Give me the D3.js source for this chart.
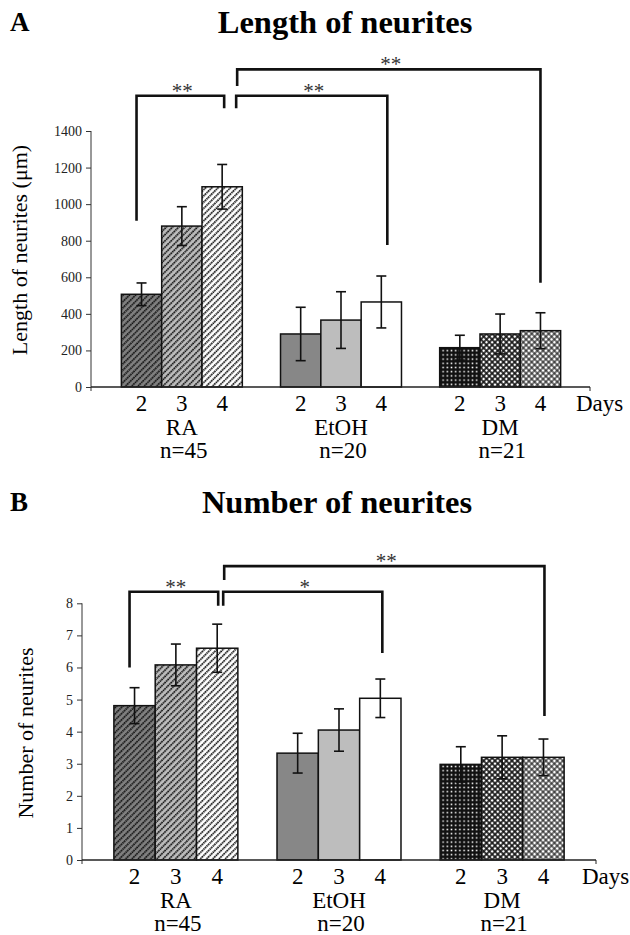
<!DOCTYPE html>
<html>
<head>
<meta charset="utf-8">
<script src="https://cdn.jsdelivr.net/npm/d3@7"></script>
<style>
  body { margin: 0; background: #fff; }
  svg { display: block; }
  text { font-family: "Liberation Serif", "Times New Roman", serif; }
</style>
</head>
<body>
<div id="chart"></div>
<script>
// values
const groups = ["RA", "EtOH", "DM"];
const groupN = ["n=45", "n=20", "n=21"];
const days = ["2", "3", "4"];

const lengthMean = [[507, 880, 1095], [290, 366, 465], [215, 290, 308]];
const lengthErr = [[62, 106, 122], [146, 155, 142], [68, 109, 98]];
const lengthTicks = [0, 200, 400, 600, 800, 1000, 1200, 1400];

const numberMean = [[4.81, 6.08, 6.60], [3.33, 4.05, 5.04], [2.98, 3.20, 3.20]];
const numberErr = [[0.56, 0.65, 0.75], [0.62, 0.66, 0.60], [0.55, 0.67, 0.57]];
const numberTicks = [0, 1, 2, 3, 4, 5, 6, 7, 8];

// significance marks for the three brackets of each panel
const lengthSig = ["**", "**", "**"];
const numberSig = ["**", "*", "**"];

const W = 630, H = 935;

const svg = d3.select("#chart").append("svg")
    .attr("width", W)
    .attr("height", H)
    .attr("font-family", "Liberation Serif, serif");

const defs = svg.append("defs");

function hatch(id, bg){
    let p = defs.append("pattern")
        .attr("id", id)
        .attr("patternUnits", "userSpaceOnUse")
        .attr("width", 4.4)
        .attr("height", 4.4)
        .attr("patternTransform", "rotate(45)");
    p.append("rect").attr("width", 4.4).attr("height", 4.4).attr("fill", bg);
    p.append("line")
        .attr("x1", 1).attr("y1", 0).attr("x2", 1).attr("y2", 4.4)
        .attr("stroke", "#111")
        .attr("stroke-width", 1.8)
        .attr("stroke-dasharray", "1.6 0.6");
}
hatch("ra2", "#808080");
hatch("ra3", "#bdbdbd");
hatch("ra4", "#ffffff");

function checker(id, hole, size, rot){
    let p = defs.append("pattern")
        .attr("id", id)
        .attr("patternUnits", "userSpaceOnUse")
        .attr("width", size)
        .attr("height", size)
        .attr("patternTransform", "rotate(" + rot + ")");
    p.append("rect").attr("width", size).attr("height", size).attr("fill", "#111");
    p.append("rect")
        .attr("x", (size - hole) / 2).attr("y", (size - hole) / 2)
        .attr("width", hole).attr("height", hole)
        .attr("fill", "#fff");
}
checker("dm2", 1.5, 4.2, 0);
checker("dm3", 2.4, 4.0, 45);
checker("dm4", 2.9, 4.0, 45);

const fills = [
    ["url(#ra2)", "url(#ra3)", "url(#ra4)"],
    ["#878787", "#bdbdbd", "#ffffff"],
    ["url(#dm2)", "url(#dm3)", "url(#dm4)"]
];

function drawPanel(cfg){
    let g = svg.append("g");

    let x0 = d3.scaleBand()
        .domain(groups)
        .range(cfg.xRange)
        .paddingInner(0.24)
        .paddingOuter(0.128);

    let x1 = d3.scaleBand()
        .domain(days)
        .range([0, x0.bandwidth()]);

    let y = d3.scaleLinear()
        .domain(cfg.domain)
        .range(cfg.yRange);

    let rows = [];
    groups.forEach(function(grp, gi){
        days.forEach(function(day, di){
            rows.push({group: grp, day: day, gi: gi, di: di,
                       mean: cfg.mean[gi][di], err: cfg.err[gi][di]});
        });
    });

    function cx(gi, di){
        return x0(groups[gi]) + x1(days[di]) + x1.bandwidth() / 2;
    }

    // panel letter + title
    g.append("text")
        .attr("x", 10)
        .attr("y", cfg.titleY - 2)
        .attr("font-size", 27)
        .attr("font-weight", "bold")
        .text(cfg.letter);

    g.append("text")
        .attr("x", cfg.titleX)
        .attr("y", cfg.titleY)
        .attr("text-anchor", "middle")
        .attr("font-size", 32.5)
        .attr("font-weight", "bold")
        .text(cfg.title);

    // y axis
    let yAxis = d3.axisLeft(y)
        .tickValues(cfg.ticks)
        .tickFormat(d3.format("d"))
        .tickSize(5)
        .tickSizeOuter(0)
        .tickPadding(4);

    let ax = g.append("g")
        .attr("transform", "translate(" + cfg.axisX + ",0)")
        .call(yAxis)
        .attr("font-family", "Liberation Serif, serif");
    ax.select(".domain").remove();
    ax.selectAll("line").attr("stroke", "#333");
    ax.selectAll("text")
        .attr("font-size", 14)
        .attr("fill", "#222");

    g.append("line")
        .attr("x1", cfg.axisX).attr("x2", cfg.axisX)
        .attr("y1", y(cfg.domain[1])).attr("y2", y(0) + 4)
        .attr("stroke", "#333");

    g.append("text")
        .attr("transform", "translate(" + cfg.yLabelX + "," + cfg.yLabelY + ") rotate(-90)")
        .attr("text-anchor", "middle")
        .attr("font-size", 22)
        .text(cfg.yLabel);

    // bars
    g.selectAll(".bar")
        .data(rows)
        .enter()
        .append("rect")
        .attr("class", "bar")
        .attr("x", function(d){ return x0(d.group) + x1(d.day); })
        .attr("y", function(d){ return y(d.mean); })
        .attr("width", x1.bandwidth())
        .attr("height", function(d){ return y(0) - y(d.mean); })
        .attr("fill", function(d){ return fills[d.gi][d.di]; })
        .attr("stroke", "#111")
        .attr("stroke-width", 1.5);

    // x axis
    g.append("line")
        .attr("x1", cfg.axisX).attr("x2", cfg.axisEnd)
        .attr("y1", y(0)).attr("y2", y(0))
        .attr("stroke", "#222")
        .attr("stroke-width", 1.5);
    g.append("line")
        .attr("x1", cfg.axisEnd).attr("x2", cfg.axisEnd)
        .attr("y1", y(0)).attr("y2", y(0) + 4)
        .attr("stroke", "#222");

    // error bars
    let eb = g.selectAll(".err")
        .data(rows)
        .enter()
        .append("g")
        .attr("class", "err")
        .attr("stroke", "#111")
        .attr("stroke-width", 1.6);
    eb.append("line")
        .attr("x1", function(d){ return cx(d.gi, d.di); })
        .attr("x2", function(d){ return cx(d.gi, d.di); })
        .attr("y1", function(d){ return y(d.mean + d.err); })
        .attr("y2", function(d){ return y(d.mean - d.err); });
    [1, -1].forEach(function(s){
        eb.append("line")
            .attr("x1", function(d){ return cx(d.gi, d.di) - 5; })
            .attr("x2", function(d){ return cx(d.gi, d.di) + 5; })
            .attr("y1", function(d){ return y(d.mean + s * d.err); })
            .attr("y2", function(d){ return y(d.mean + s * d.err); });
    });

    // day labels
    g.selectAll(".day")
        .data(rows)
        .enter()
        .append("text")
        .attr("x", function(d){ return cx(d.gi, d.di); })
        .attr("y", y(0) + 24)
        .attr("text-anchor", "middle")
        .attr("font-size", 23)
        .text(function(d){ return d.day; });

    g.append("text")
        .attr("x", cfg.axisEnd - 14)
        .attr("y", y(0) + 24)
        .attr("font-size", 23)
        .text("Days");

    g.selectAll(".grp")
        .data(groups)
        .enter()
        .append("text")
        .attr("x", function(d){ return x0(d) + x0.bandwidth() / 2; })
        .attr("y", y(0) + 48)
        .attr("text-anchor", "middle")
        .attr("font-size", 23)
        .text(function(d){ return d; });

    g.selectAll(".nn")
        .data(groupN)
        .enter()
        .append("text")
        .attr("x", function(d, i){ return x0(groups[i]) + x0.bandwidth() / 2 + 2; })
        .attr("y", y(0) + 71)
        .attr("text-anchor", "middle")
        .attr("font-size", 23)
        .text(function(d){ return d; });

    // significance brackets
    cfg.brackets.forEach(function(b, i){
        let xa = cx(b.a[0], b.a[1]) + b.dxa;
        let xb = cx(b.b[0], b.b[1]) + b.dxb;
        g.append("path")
            .attr("d", "M" + xa + "," + y(b.ya) + "V" + y(b.y) + "H" + xb + "V" + y(b.yb))
            .attr("fill", "none")
            .attr("stroke", "#111")
            .attr("stroke-width", 2.6);
        g.append("text")
            .attr("x", (xa + xb) / 2 + 2)
            .attr("y", y(b.y) + 2)
            .attr("text-anchor", "middle")
            .attr("font-size", 21)
            .attr("fill", "#333")
            .text(cfg.sig[i]);
    });
}

drawPanel({
    letter: "A",
    title: "Length of neurites",
    titleX: 345, titleY: 33,
    yLabel: "Length of neurites (\u03bcm)",
    yLabelX: 27, yLabelY: 250,
    xRange: [101, 581],
    axisX: 91, axisEnd: 590,
    domain: [0, 1400], yRange: [387, 131],
    ticks: lengthTicks,
    mean: lengthMean, err: lengthErr,
    sig: lengthSig,
    brackets: [
        {a: [0, 0], b: [0, 2], y: 1593, ya: 909, yb: 1525, dxa: -5, dxb: 2},
        {a: [0, 2], b: [1, 2], y: 1593, ya: 1525, yb: 776, dxa: 14, dxb: 6},
        {a: [0, 2], b: [2, 2], y: 1737, ya: 1646, yb: 570, dxa: 15, dxb: 0}
    ]
});

drawPanel({
    letter: "B",
    title: "Number of neurites",
    titleX: 337, titleY: 513,
    yLabel: "Number of neurites",
    yLabelX: 33, yLabelY: 733,
    xRange: [93, 585],
    axisX: 82, axisEnd: 596,
    domain: [0, 8], yRange: [860, 603.3],
    ticks: numberTicks,
    mean: numberMean, err: numberErr,
    sig: numberSig,
    brackets: [
        {a: [0, 0], b: [0, 2], y: 8.36, ya: 6.0, yb: 7.92, dxa: -5, dxb: 1},
        {a: [0, 2], b: [1, 2], y: 8.36, ya: 7.92, yb: 6.45, dxa: 6, dxb: 2},
        {a: [0, 2], b: [2, 2], y: 9.16, ya: 8.73, yb: 4.49, dxa: 7, dxb: 1}
    ]
});
</script>
</body>
</html>
